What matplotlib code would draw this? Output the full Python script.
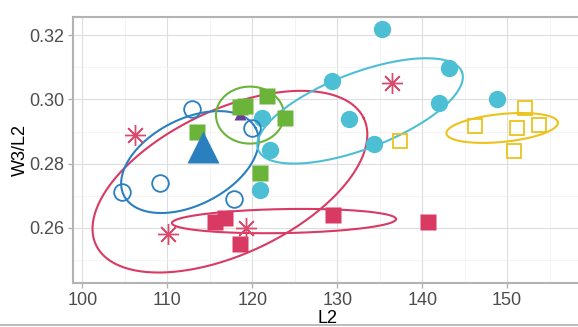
import numpy as np
import matplotlib
matplotlib.use('Agg')
import matplotlib.pyplot as plt
from matplotlib.lines import Line2D

plt.rcParams['font.family'] = ['Liberation Sans', 'DejaVu Sans']

# group colours
RED = '#d93a63'
BLUE = '#2a7fbf'
GREEN = '#6bb43a'
CYAN = '#4dbfd4'
YELLOW = '#ebc31c'
PURPLE = '#6a3d9a'

# points (L2, W3/L2)
star_x = [106.2, 110.1, 119.3, 136.4]
star_y = [0.289, 0.258, 0.260, 0.305]

rsq_x = [115.6, 116.8, 118.5, 129.5, 140.7]
rsq_y = [0.262, 0.263, 0.255, 0.264, 0.262]

bcirc_x = [104.7, 109.1, 117.8, 112.9, 120.0]
bcirc_y = [0.2712, 0.274, 0.269, 0.297, 0.291]

gsq_x = [113.5, 118.6, 119.2, 121.7, 123.85, 120.9]
gsq_y = [0.290, 0.2975, 0.2980, 0.301, 0.2942, 0.2771]

cyan_x = [135.3, 129.4, 143.1, 142.0, 148.8, 131.4, 134.3, 121.2, 122.1, 120.9]
cyan_y = [0.3219, 0.3057, 0.3097, 0.2988, 0.3001, 0.2939, 0.2861, 0.2942, 0.2842, 0.2718]

ysq_x = [146.2, 152.1, 151.2, 153.8, 150.8, 137.4]
ysq_y = [0.2917, 0.2973, 0.2911, 0.2920, 0.2839, 0.2870]

tri_x, tri_y = [114.2], [0.2852]
ptri_x, ptri_y = [118.6], [0.2955]

# ellipses: centre, semi-major vector, semi-minor vector (data units)
ellipses = {
    'red_big':  ((117.37, 0.2744), (15.76, 0.01969), (3.63, -0.02025), RED),
    'red_thin': ((123.73, 0.26215), (13.19, 0.00062), (0.0, -0.00373), RED),
    'blue':     ((112.66, 0.2805), (7.76, 0.01045), (2.30, -0.01191), BLUE),
    'green':    ((119.73, 0.2951), (4.0, 0.0), (0.0, 0.00886), GREEN),
    'cyan':     ((132.69, 0.2964), (11.99, 0.01210), (1.60, -0.01104), CYAN),
    'yellow':   ((149.41, 0.2911), (6.56, 0.00171), (0.16, -0.00432), YELLOW),
}

fig = plt.figure(figsize=(5.78, 3.27), dpi=100)
ax = fig.add_axes([0.1263, 0.1346, 0.879, 0.8134])

t = np.linspace(0, 2 * np.pi, 300)
for name, (c, u, v, col) in ellipses.items():
    ex = c[0] + u[0] * np.cos(t) + v[0] * np.sin(t)
    ey = c[1] + u[1] * np.cos(t) + v[1] * np.sin(t)
    ax.plot(ex, ey, color=col, lw=1.5, zorder=3)

ax.plot(ptri_x, ptri_y, '^', ms=9, color=PURPLE, mec='none', zorder=3.5)
ax.plot(gsq_x, gsq_y, 's', ms=12, color=GREEN, mec='none', zorder=4)
ax.plot(rsq_x, rsq_y, 's', ms=12, color=RED, mec='none', zorder=4)
ax.plot(cyan_x, cyan_y, 'o', ms=12.5, color=CYAN, mec='none', zorder=4)
ax.plot(bcirc_x, bcirc_y, 'o', ms=12, mfc='none', mec=BLUE, mew=1.3, zorder=4)
ax.plot(ysq_x, ysq_y, 's', ms=10.5, mfc='none', mec=YELLOW, mew=1.3, zorder=4)
ax.plot(star_x, star_y, marker=(8, 2, 0), ls='none', ms=15, mec='#db4a6c',
        mew=1.0, zorder=4)
ax.plot(tri_x, tri_y, '^', ms=23, color=BLUE, mec='none', zorder=5)

ax.set_xlim(98.9, 158.7)
ax.set_ylim(0.2429, 0.3256)
ax.set_xticks([100, 110, 120, 130, 140, 150])
ax.set_yticks([0.26, 0.28, 0.30, 0.32])
ax.set_yticklabels(['0.26', '0.28', '0.30', '0.32'])
ax.xaxis.set_minor_locator(plt.MultipleLocator(5))
ax.yaxis.set_minor_locator(plt.MultipleLocator(0.01))
ax.grid(which='major', color='#dedede', lw=0.8)
ax.grid(which='minor', color='#f0f0f0', lw=0.5)
ax.set_axisbelow(True)

for side in ['left', 'top', 'bottom', 'right']:
    ax.spines[side].set_color('#b3b3b3')
    ax.spines[side].set_linewidth(1.5)
ax.tick_params(which='major', length=3.5, width=1, color='#b3b3b3',
               labelsize=13, labelcolor='#4d4d4d', pad=3)
ax.tick_params(which='minor', length=0)

ax.set_xlabel('L2', fontsize=13, labelpad=1)
ax.set_ylabel('W3/L2', fontsize=13, labelpad=0)

fig.add_artist(Line2D([0, 1], [0.006, 0.006], transform=fig.transFigure,
                      color='#b0b0b0', lw=1.2))

fig.savefig('out.png', dpi=100)
